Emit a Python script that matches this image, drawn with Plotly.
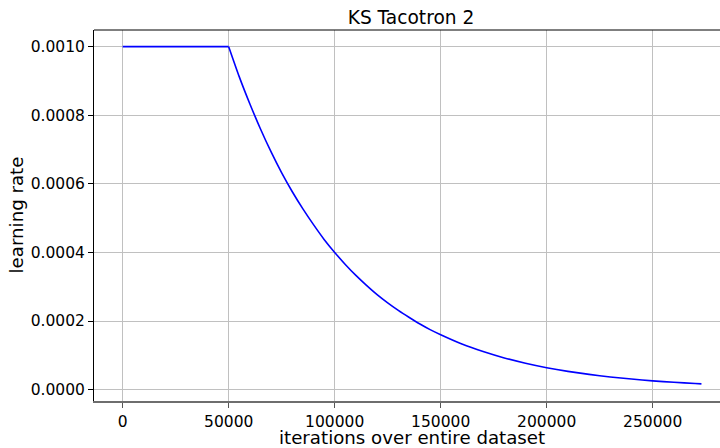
import plotly.graph_objects as go

# Data
plateau_x = [0, 50000]
plateau_y = [0.001, 0.001]
decay_x = [50000, 55000, 60000, 65000, 70000, 75000, 80000, 85000, 90000, 95000, 100000,
           105000, 110000, 115000, 120000, 125000, 130000, 135000, 140000, 145000, 150000,
           160000, 170000, 180000, 190000, 200000, 210000, 220000, 230000, 240000, 250000,
           260000, 270000, 273000]
decay_y = [0.001, 0.000912, 0.000833, 0.00076, 0.000693, 0.000632, 0.000577, 0.000527,
           0.000481, 0.000438, 0.0004, 0.000365, 0.000333, 0.000304, 0.000277, 0.000253,
           0.000231, 0.000211, 0.000192, 0.000175, 0.00016, 0.000133, 0.000111, 0.0000924,
           0.000077, 0.000064, 0.0000533, 0.0000444, 0.000037, 0.0000308, 0.0000256,
           0.0000213, 0.0000178, 0.0000167]
x_ticks = [0, 50000, 100000, 150000, 200000, 250000]
y_ticks = [0.0, 0.0002, 0.0004, 0.0006, 0.0008, 0.0010]

FONT = "DejaVu Sans"
W, H = 720, 448
L, T, B = 94, 30, 47
PW, PH = W - L, H - T - B
TICK_FS = 15.5
LABEL_FS = 18.2
TITLE_FS = 18.6

fig = go.Figure()
fig.add_trace(go.Scatter(x=plateau_x, y=plateau_y, mode="lines",
                         line=dict(color="#0000ff", width=1.6), showlegend=False))
fig.add_trace(go.Scatter(x=decay_x, y=decay_y, mode="lines",
                         line=dict(color="#0000ff", width=1.6, shape="spline", smoothing=0.6),
                         showlegend=False))

fig.update_layout(
    width=W, height=H,
    margin=dict(l=L, r=0, t=T, b=B, pad=0),
    paper_bgcolor="white", plot_bgcolor="white",
    font=dict(family=FONT, color="black", size=TICK_FS),
    title=dict(text="KS Tacotron 2", x=411 / W, xanchor="center", y=1 - 17 / H,
               yanchor="middle", yref="container",
               font=dict(size=TITLE_FS, family=FONT, color="black")),
)
fig.update_xaxes(range=[-13540, 281750], tickvals=x_ticks, ticktext=[str(v) for v in x_ticks],
                 showgrid=True, gridcolor="#c0c0c0", gridwidth=1, zeroline=False,
                 showline=True, linecolor="#6e6e6e", linewidth=2, mirror=False,
                 ticks="outside", ticklen=5, tickcolor="#555555", tickwidth=1,
                 tickfont=dict(size=TICK_FS, family=FONT, color="black"))
fig.update_yaxes(range=[-0.0000332, 0.0010486], tickvals=y_ticks,
                 ticktext=["%.4f" % v for v in y_ticks],
                 showgrid=True, gridcolor="#c0c0c0", gridwidth=1, zeroline=False,
                 showline=True, linecolor="black", linewidth=1, mirror=False,
                 ticks="outside", ticklen=5, tickcolor="black", tickwidth=1,
                 tickfont=dict(size=TICK_FS, family=FONT, color="black"))

# top spine of the axes box
fig.add_shape(type="line", xref="paper", yref="paper", x0=0, x1=1, y0=1, y1=1,
              line=dict(color="black", width=1))

fig.add_annotation(text="iterations over entire dataset", xref="paper", yref="paper",
                   x=(412 - L) / PW, y=(H - B - 437.5) / PH, xanchor="center", yanchor="middle",
                   showarrow=False, borderpad=0, font=dict(size=LABEL_FS, family=FONT, color="black"))
fig.add_annotation(text="learning rate", xref="paper", yref="paper",
                   x=(16 - L) / PW, y=0.5, xanchor="center", yanchor="middle", textangle=-90,
                   showarrow=False, borderpad=0, font=dict(size=LABEL_FS, family=FONT, color="black"))

fig.write_html("out.html", config={"displayModeBar": False},
               post_script="document.body.style.margin='0';")
